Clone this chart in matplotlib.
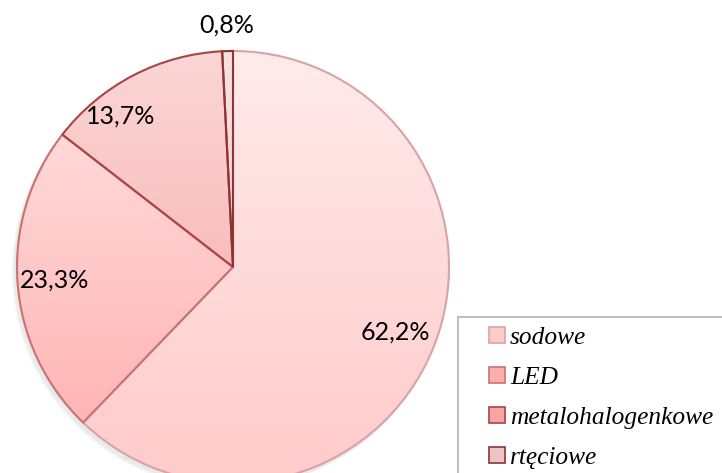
import numpy as np
import matplotlib.pyplot as plt
from matplotlib.colors import LinearSegmentedColormap
from matplotlib.patches import Circle, Rectangle

labels = ["sodowe", "LED", "metalohalogenkowe", "rtęciowe"]
values = [62.2, 23.3, 13.7, 0.8]
pct_text = ["62,2%", "23,3%", "13,7%", "0,8%"]

# gradient colours (top, bottom) and edge colours per slice
top_colors = ["#FFEBEB", "#FFE2E2", "#FBD6D6", "#F7E2E2"]
bottom_colors = ["#FFCACA", "#FFAEAE", "#F7A4A4", "#EBC4C4"]
edge_colors = ["#D9A3A3", "#C77373", "#A94444", "#8E3434"]
label_dist = [0.81, 0.83, 0.87, 1.12]
label_shift = [0, 0, 9, 0]

W, H = 722, 473
fig = plt.figure(figsize=(W / 100, H / 100), dpi=100)
ax = fig.add_axes([0, 0, 1, 1])

cx, cy, r = 233, H - 267, 216

# soft shadow
for k in range(3):
    ax.add_patch(Circle((cx - 2 - k, cy - 3 - k), r + 1, color="gray", alpha=0.06, lw=0, zorder=0))

wedges, _ = ax.pie(values, startangle=90, counterclock=False, center=(cx, cy),
                   radius=r, frame=True, wedgeprops=dict(linewidth=1.5))

for i, w in enumerate(wedges):
    w.set_facecolor("none")
    w.set_edgecolor(edge_colors[i])
    w.set_zorder(3)
    cmap = LinearSegmentedColormap.from_list("g%d" % i, [bottom_colors[i], top_colors[i]])
    grad = np.linspace(0, 1, 256).reshape(-1, 1)
    im = ax.imshow(grad, cmap=cmap, extent=(cx - r, cx + r, cy - r, cy + r),
                   origin="lower", aspect="auto", zorder=2)
    im.set_clip_path(w)
    mid = np.deg2rad((w.theta1 + w.theta2) / 2 + label_shift[i])
    d = label_dist[i] * r
    ax.text(cx + d * np.cos(mid), cy + d * np.sin(mid), pct_text[i],
            ha="center", va="center", fontsize=18, family="Lato", color="black", zorder=5)

ax.set_xlim(0, W)
ax.set_ylim(0, H)
ax.set_aspect("equal")
ax.axis("off")

# legend frame (runs off the right and bottom edge)
fig.patches.append(Rectangle((458 / W, -0.1), 0.5, 1 - 317 / H + 0.1, transform=fig.transFigure,
                             facecolor="white", edgecolor="#BFBFBF", lw=1.5, zorder=4))

handles = []
for i in range(len(labels)):
    handles.append(Rectangle((0, 0), 1, 1, facecolor=bottom_colors[i], edgecolor=edge_colors[i], lw=1.2))
leg = fig.legend(handles, labels, loc="upper left", bbox_to_anchor=(489 / W, 1 - 327 / H),
                 frameon=False, handlelength=0.62, handleheight=0.62,
                 handletextpad=0.2, labelspacing=0.7, borderpad=0,
                 borderaxespad=0, prop=dict(family="Liberation Serif", style="italic", size=18.3))
leg.set_zorder(5)

fig.savefig("out.png", dpi=100)
